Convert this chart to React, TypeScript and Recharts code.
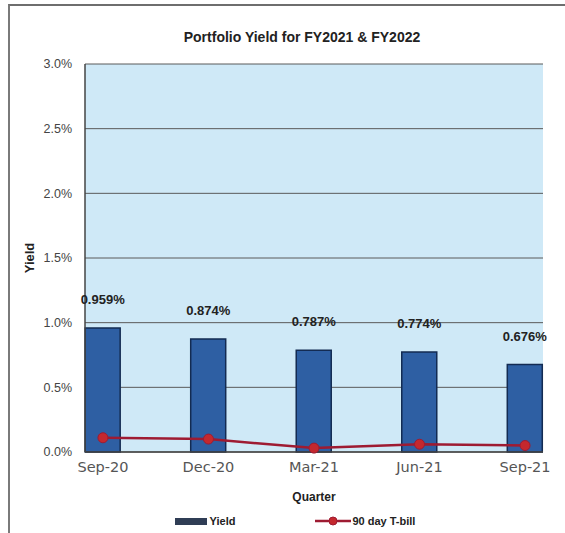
import {
  ComposedChart,
  Bar,
  Line,
  XAxis,
  YAxis,
  CartesianGrid,
  Legend,
  LabelList
} from 'recharts';

const quarters = ['Sep-20', 'Dec-20', 'Mar-21', 'Jun-21', 'Sep-21'];
const yieldValues = [0.959, 0.874, 0.787, 0.774, 0.676];
const tbillValues = [0.11, 0.1, 0.03, 0.06, 0.05];
const yTicks = [0, 0.5, 1, 1.5, 2, 2.5, 3];

const data = quarters.map((q, i) => ({
  idx: i,
  quarter: q,
  yield: yieldValues[i],
  tbill: tbillValues[i]
}));

const BAR_FILL = '#2e5fa3';
const BAR_STROKE = '#132b52';
const LINE_COLOR = '#9e1b32';
const DOT_COLOR = '#c4282e';

function BarValueLabel(props: any) {
  const { x, y, width, value } = props;
  return (
    <text
      x={x + width / 2}
      y={y - 24}
      textAnchor="middle"
      fontFamily="'Liberation Sans', Arial, sans-serif"
      fontWeight="bold"
      fontSize={13}
      fill="#222"
    >
      {`${Number(value).toFixed(3)}%`}
    </text>
  );
}

function ChartLegend() {
  return (
    <div
      style={{
        height: 20,
        display: 'flex',
        justifyContent: 'center',
        alignItems: 'center',
        paddingLeft: 23,
        fontFamily: "'Liberation Sans', Arial, sans-serif",
        fontWeight: 'bold',
        fontSize: 11,
        color: '#222'
      }}
    >
      <span style={{ display: 'inline-block', width: 32, height: 7, background: '#2f3d55', marginRight: 3 }} />
      <span>Yield</span>
      <span style={{ display: 'inline-block', width: 80 }} />
      <svg width={36} height={12} style={{ marginRight: 1 }}>
        <line x1={0} y1={6} x2={36} y2={6} stroke={LINE_COLOR} strokeWidth={2.5} />
        <circle cx={18} cy={6} r={4} fill={DOT_COLOR} stroke={LINE_COLOR} />
      </svg>
      <span>90 day T-bill</span>
    </div>
  );
}

export default function App() {
  return (
    <div style={{ position: 'absolute', left: 0, top: 0, width: 565, height: 533, background: '#fff' }}>
      <div
        style={{
          position: 'absolute',
          left: 8,
          top: 4,
          width: 557,
          height: 527,
          borderTop: '2px solid #6e6e6e',
          borderLeft: '2px solid #7a7a7a',
          borderBottom: '1px solid #dedede'
        }}
      />
      <div
        style={{
          position: 'absolute',
          left: 0,
          top: 28,
          width: 604,
          textAlign: 'center',
          fontFamily: "'Liberation Sans', Arial, sans-serif",
          fontWeight: 'bold',
          fontSize: 14,
          lineHeight: '18px',
          color: '#222'
        }}
      >
        Portfolio Yield for FY2021 &amp; FY2022
      </div>
      <ComposedChart
        width={565}
        height={533}
        data={data}
        margin={{ top: 64, right: 22, left: 24, bottom: 2 }}
        style={{ position: 'absolute', left: 0, top: 0 }}
      >
        <CartesianGrid vertical={false} fill="#cfe9f7" stroke="#5a5a5a" strokeWidth={1} />
        <XAxis
          dataKey="idx"
          type="number"
          domain={[-0.17, 4.17]}
          ticks={[0, 1, 2, 3, 4]}
          tickFormatter={(v: number) => quarters[v]}
          height={59}
          axisLine={{ stroke: '#444', strokeWidth: 1.5 }}
          tickLine={false}
          tickMargin={4}
          tick={{ fontFamily: "'DejaVu Sans', sans-serif", fontSize: 14.5, fill: '#555' }}
          label={{
            value: 'Quarter',
            position: 'insideBottom',
            offset: 10,
            style: { fontFamily: "'Liberation Sans', Arial, sans-serif", fontWeight: 'bold', fontSize: 12, fill: '#222' }
          }}
        />
        <YAxis
          domain={[0, 3]}
          ticks={yTicks}
          width={61}
          tickFormatter={(v: number) => `${v.toFixed(1)}%`}
          axisLine={{ stroke: '#444', strokeWidth: 1.5 }}
          tickLine={false}
          tickMargin={7}
          tick={{ fontFamily: "'Liberation Sans', Arial, sans-serif", fontSize: 12.5, fill: '#444' }}
          label={{
            value: 'Yield',
            angle: -90,
            position: 'insideLeft',
            offset: 5,
            style: { textAnchor: 'middle', fontFamily: "'Liberation Sans', Arial, sans-serif", fontWeight: 'bold', fontSize: 13, fill: '#222' }
          }}
        />
        <YAxis
          yAxisId="frame"
          orientation="right"
          width={0}
          tick={false}
          tickLine={false}
          axisLine={{ stroke: '#444', strokeWidth: 1.5 }}
        />
        <Legend verticalAlign="bottom" content={<ChartLegend />} />
        <Bar
          dataKey="yield"
          name="Yield"
          barSize={35}
          fill={BAR_FILL}
          stroke={BAR_STROKE}
          strokeWidth={1.5}
          isAnimationActive={false}
        >
          <LabelList dataKey="yield" content={<BarValueLabel />} />
        </Bar>
        <Line
          dataKey="tbill"
          name="90 day T-bill"
          type="linear"
          stroke={LINE_COLOR}
          strokeWidth={2.5}
          dot={{ r: 5, fill: DOT_COLOR, stroke: LINE_COLOR, strokeWidth: 1 }}
          activeDot={false}
          isAnimationActive={false}
        />
      </ComposedChart>
    </div>
  );
}
